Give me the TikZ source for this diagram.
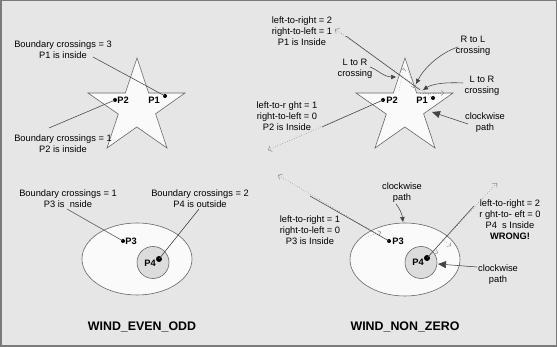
\documentclass[tikz,border=0pt]{standalone}
\usepackage{fontspec}
\setmainfont{Liberation Sans}
\usetikzlibrary{arrows.meta}
\definecolor{bg}{HTML}{E6E6E6}
\definecolor{frame}{HTML}{7A7A7A}
\definecolor{edge}{HTML}{666666}
\definecolor{lead}{HTML}{444444}
\definecolor{raycol}{HTML}{8C8C8C}
\definecolor{starfill}{HTML}{FAFAFA}
\definecolor{holefill}{HTML}{DCDCDC}
\tikzset{
  lbl/.style={align=center,inner sep=0pt,font=\fontsize{9.3}{11}\selectfont},
  plbl/.style={inner sep=0pt,font=\fontsize{9.3}{11}\selectfont\bfseries},
  title/.style={inner sep=0pt,font=\fontsize{12.4}{14}\selectfont\bfseries},
  staredge/.style={draw=edge,fill=starfill,line width=0.6pt},
  pdot/.style={circle,fill=black,inner sep=0pt,minimum size=4pt},
  bigdot/.style={circle,fill=black,inner sep=0pt,minimum size=6pt},
  leader/.style={draw=lead,line width=0.55pt},
  raydot/.style={draw=raycol,line width=0.6pt,dotted,-{Straight Barb[length=3pt,width=6pt,line width=0.6pt]}},
  pointer/.style={draw=lead,line width=0.55pt,-{Triangle[length=5pt,width=4.5pt]}},
  bigpointer/.style={draw=lead,line width=0.55pt,-{Triangle[length=8pt,width=7pt]}},
  dirmark/.style={draw=raycol,line width=0.5pt,dotted,-{Straight Barb[length=2.5pt,width=5pt,line width=0.5pt]}},
}
\newcommand\mystar[2]{%
  \coordinate (#1T) at (137+#2,58);
  \coordinate (#1R) at (185+#2,93);
  \coordinate (#1BR) at (167+#2,148);
  \coordinate (#1BL) at (107+#2,148);
  \coordinate (#1L) at (88+#2,93);
  \draw[staredge] (#1T)
    -- (intersection of #1T--#1BR and #1L--#1R) -- (#1R)
    -- (intersection of #1R--#1BL and #1T--#1BR) -- (#1BR)
    -- (intersection of #1BR--#1L and #1BL--#1R) -- (#1BL)
    -- (intersection of #1BL--#1T and #1L--#1BR) -- (#1L)
    -- (intersection of #1L--#1R and #1T--#1BL) -- cycle;
}
\begin{document}
\begin{tikzpicture}[x=1pt,y=-1pt]
\useasboundingbox (0,0) rectangle (557,347);
\fill[bg] (0,0) rectangle (557,347);
\draw[frame,line width=1.5pt] (0.75,0.75) rectangle (556.25,346.25);

% ---------------- left panel ----------------
\mystar{a}{0}
\node[pdot] (p1a) at (165,96) {};
\node[plbl] (p1al) at (154,100) {P1};
\node[pdot] (p2a) at (115,100) {};
\node[plbl] (p2al) at (123,100) {P2};
\node[lbl] (ta) at (63,49.5) {Boundary crossings = 3\\P1 is inside};
\node[lbl] (tb) at (63,143.5) {Boundary crossings = 1\\P2 is inside};
\coordinate (ta1) at (93,57);
\coordinate (tb1) at (49,128);
\draw[leader] (ta1) -- (p1a.center);
\draw[leader] (p2a.center) -- (tb1);

\draw[draw=edge,fill=starfill,line width=0.6pt] (137,259) ellipse [x radius=55,y radius=36];
\draw[draw=edge,fill=holefill,line width=0.6pt] (153,262.5) circle [radius=16];
\node[pdot] (p3a) at (123,241) {};
\node[plbl] (p3al) at (131,241) {P3};
\node[bigdot] (p4a) at (159,259) {};
\node[plbl] (p4al) at (150,263) {P4};
\node[lbl] (tc) at (68,198.5) {Boundary crossings = 1\\P3 is \ nside};
\node[lbl] (td) at (200,198.5) {Boundary crossings = 2\\P4 is outside};
\coordinate (tc1) at (67,209);
\coordinate (td1) at (199,209);
\draw[leader] (tc1) -- (p3a.center);
\draw[leader] (td1) -- (p4a.center);
\node[title] (wa) at (142,327) {WIND\_EVEN\_ODD};

% ---------------- right panel ----------------
\mystar{b}{268}
% direction marks along star edges
\coordinate (sm1) at (399,90);
\coordinate (sm2) at (404,68);
\coordinate (sm3) at (408,70);
\coordinate (sm4) at (414,88);
\coordinate (sm5) at (420,93);
\coordinate (sm6) at (444,93);
\draw[dirmark] (sm1) -- (sm2);
\draw[dirmark] (sm3) -- (sm4);
\draw[dirmark] (sm5) -- (sm6);

\node[pdot] (p2b) at (383,100) {};
\node[plbl] (p2bl) at (392,100) {P2};
\node[plbl] (p1bl) at (422,100) {P1};
\node[pdot] (p1b) at (433,98) {};

\node[lbl] (te) at (302,31.5) {left-to-right = 2\\right-to-left = 1\\P1 is Inside};
\coordinate (r1) at (335,29);
\coordinate (l1) at (346,36);
\draw[raydot] (p1b.center) -- (r1);
\draw[leader] (l1) -- (420,90);

\node[lbl] (tf) at (473,46) {R to L\\crossing};
\coordinate (tf1) at (458,47);
\coordinate (tf2) at (416,84);
\draw[pointer] (tf1) .. controls (440,53) and (424,68) .. (tf2);

\node[lbl] (tg) at (482,86) {L to R\\crossing};
\coordinate (tg1) at (463,83);
\coordinate (tg2) at (423,90);
\draw[pointer] (tg1) .. controls (445,82) and (432,84) .. (tg2);

\node[lbl] (th) at (355,68.5) {L to R\\crossing};
\coordinate (th1) at (370,67);
\coordinate (th2) at (396,77);
\draw[pointer] (th1) .. controls (378,70) and (384,77) .. (th2);

\node[lbl] (ti) at (485,122.5) {clockwise\\path};
\coordinate (ti1) at (468,124);
\coordinate (ti2) at (432,112);
\draw[bigpointer] (ti1) -- (ti2);

\node[lbl] (tj) at (287,116) {left-to-r ght = 1\\right-to-left = 0\\P2 is Inside};
\coordinate (r2) at (268,150);
\coordinate (l2) at (322,127);
\draw[raydot] (p2b.center) -- (r2);
\draw[leader] (p2b.center) -- (l2);

\draw[draw=edge,fill=starfill,line width=0.6pt] (405,259.5) ellipse [x radius=55,y radius=36.5];
\draw[draw=edge,fill=holefill,line width=0.6pt] (421,262.5) circle [radius=16];
% direction marks on ellipse and circle
\coordinate (em1) at (366,237);
\coordinate (em2) at (381,232);
\coordinate (em3) at (440,238);
\coordinate (em4) at (451,246);
\coordinate (em5) at (426,247.5);
\coordinate (em6) at (438,253);
\draw[dirmark] (em1) -- (em2);
\draw[dirmark] (em3) -- (em4);
\draw[dirmark] (em5) -- (em6);

\node[pdot] (p3b) at (389,241) {};
\node[plbl] (p3bl) at (398,241) {P3};
\node[bigdot] (p4b) at (427,258) {};
\node[plbl] (p4bl) at (418,262) {P4};

\node[lbl] (tk) at (402,192.5) {clockwise\\path};
\coordinate (tk1) at (396,204);
\coordinate (tk2) at (403,222);
\draw[pointer] (tk1) .. controls (400,209) and (402,214) .. (tk2);

\node[lbl] (tl) at (310,230) {left-to-right = 1\\right-to-left = 0\\P3 is Inside};
\coordinate (r3) at (278,175);
\coordinate (l3) at (310,196);
\draw[raydot] (p3b.center) -- (r3);
\draw[leader] (p3b.center) -- (l3);

\node[lbl] (tm) at (510,220) {left-to-right = 2\\r ght-to- eft = 0\\P4 \ s Inside\\\textbf{WRONG!}};
\coordinate (r4) at (497,183);
\coordinate (l4) at (474,206);
\draw[raydot] (p4b.center) -- (r4);
\draw[leader] (p4b.center) -- (l4);

\node[lbl] (tn) at (498,274.5) {clockwise\\path};
\coordinate (tn1) at (477,267);
\coordinate (tn2) at (438,264);
\draw[bigpointer] (tn1) -- (tn2);

\node[title] (wb) at (405,327) {WIND\_NON\_ZERO};
\end{tikzpicture}
\end{document}
